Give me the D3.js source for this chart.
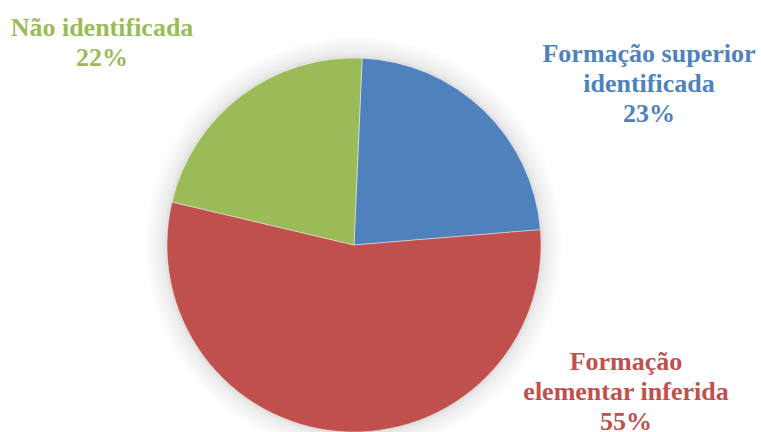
<!DOCTYPE html>
<html>
<head>
<meta charset="utf-8">
<script src="https://cdn.jsdelivr.net/npm/d3@7"></script>
</head>
<body style="margin:0">
<svg id="chart" width="761" height="432"></svg>
<script>
// Category names (each label split into its lines) and shares in percent
const categories = [
  ["Formação superior", "identificada"],
  ["Formação", "elementar inferida"],
  ["Não identificada"]
];
const values = [23, 55, 22];
const colors = ["#4F81BD", "#C0504D", "#9BBB59"];

const cx = 354, cy = 245, radius = 187;
const startDeg = 2.5;

const svg = d3.select("#chart");

// soft halo behind the pie, drawn as a radial gradient fading outwards
const haloR = radius + 22;
const defs = svg.append("defs");
const grad = defs.append("radialGradient")
  .attr("id", "halo")
  .attr("cx", "50%").attr("cy", "50%").attr("r", "50%");
grad.append("stop").attr("offset", (radius - 6) / haloR).attr("stop-color", "#000").attr("stop-opacity", 0.22);
grad.append("stop").attr("offset", (radius + 4) / haloR).attr("stop-color", "#000").attr("stop-opacity", 0.08);
grad.append("stop").attr("offset", 1).attr("stop-color", "#000").attr("stop-opacity", 0);

const g = svg.append("g").attr("transform", `translate(${cx},${cy})`);

g.append("circle")
  .attr("r", haloR)
  .attr("fill", "url(#halo)");

const start = startDeg * Math.PI / 180;
const pie = d3.pie()
  .sort(null)
  .startAngle(start)
  .endAngle(start + 2 * Math.PI)
  .value(d => d);

const arc = d3.arc().innerRadius(0).outerRadius(radius);

g.selectAll("path.slice")
  .data(pie(values))
  .join("path")
  .attr("class", "slice")
  .attr("d", arc)
  .attr("fill", (d, i) => colors[i])
  .attr("stroke", "#ffffff")
  .attr("stroke-opacity", 0.55)
  .attr("stroke-width", 0.8);

// labels: centre x and first baseline for each category
const labelPos = [
  { x: 649, y: 62 },
  { x: 626, y: 370 },
  { x: 102, y: 36 }
];
const lineH = 30;

categories.forEach((lines, i) => {
  const all = lines.concat([values[i] + "%"]);
  all.forEach((s, k) => {
    svg.append("text")
      .attr("x", labelPos[i].x)
      .attr("y", labelPos[i].y + k * lineH)
      .attr("text-anchor", "middle")
      .attr("fill", colors[i])
      .style("font-family", "Liberation Serif")
      .style("font-weight", "bold")
      .style("font-size", "26px")
      .text(s);
  });
});
</script>
</body>
</html>
